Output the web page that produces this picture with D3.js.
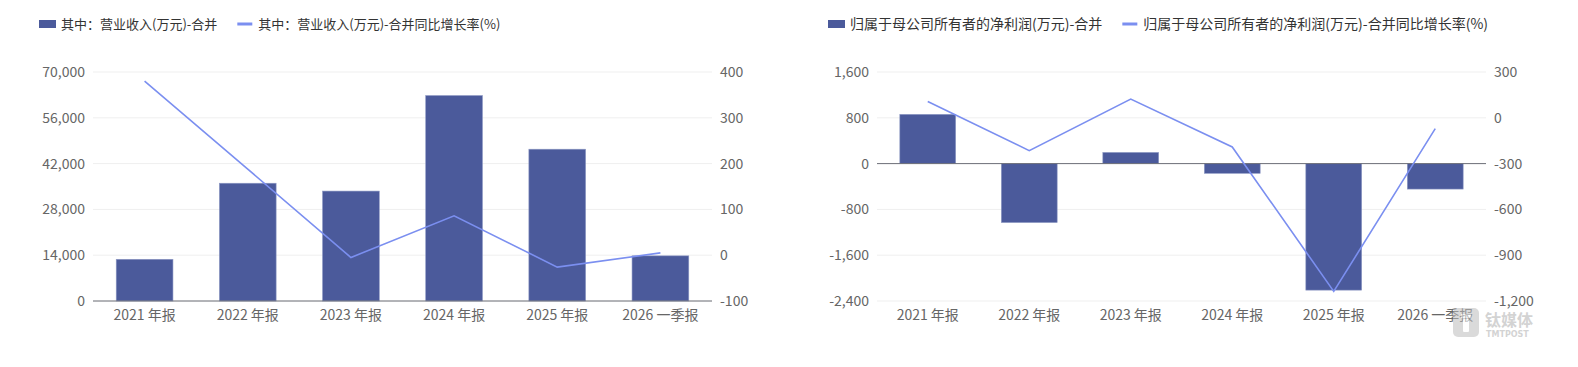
<!DOCTYPE html>
<html><head><meta charset="utf-8">
<script src="https://cdn.jsdelivr.net/npm/d3@7/dist/d3.min.js"></script>
<style>body{margin:0;background:#fff;}svg{display:block;font-family:"Noto Sans CJK SC","Noto Sans",sans-serif;}</style>
</head><body>
<svg id="c" width="1578" height="367"></svg>
<script>
const categories = ["2021 年报","2022 年报","2023 年报","2024 年报","2025 年报","2026 一季报"];
const revenue = [12750, 36000, 33600, 62800, 46400, 13800];
const revenueGrowth = [380, 188, -5, 86, -26, 5];
const netProfit = [860, -1030, 195, -170, -2210, -445];
const netProfitGrowth = [107, -215, 123, -191, -1137, -71];
const revTicks = [0, 14000, 28000, 42000, 56000, 70000];
const revGrowthTicks = [-100, 0, 100, 200, 300, 400];
const profitTicks = [-2400, -1600, -800, 0, 800, 1600];
const profitGrowthTicks = [-1200, -900, -600, -300, 0, 300];
const legendLeft = ["其中：营业收入(万元)-合并", "其中：营业收入(万元)-合并同比增长率(%)"];
const legendRight = ["归属于母公司所有者的净利润(万元)-合并", "归属于母公司所有者的净利润(万元)-合并同比增长率(%)"];

const BAR = "#4b5a9b", LINE = "#7b8ff0";
const svg = d3.select("#c");
const fmt0 = d3.format(",");
const fmt = v => fmt0(v).replace("\u2212", "-");

function chart(o) {
  const g = svg.append("g");
  const x = d3.scaleBand().domain(categories).range([o.x0, o.x1]);
  const yL = d3.scaleLinear().domain(d3.extent(o.lt)).range([o.y1, o.y0]);
  const yR = d3.scaleLinear().domain(d3.extent(o.rt)).range([o.y1, o.y0]);
  g.selectAll(".grid").data(o.lt).join("line")
    .attr("x1", o.x0).attr("x2", o.x1)
    .attr("y1", d => yL(d)).attr("y2", d => yL(d))
    .attr("stroke", "#efefef").attr("stroke-width", 1);
  const la = g.append("g").attr("transform", `translate(${o.x0},0)`)
    .call(d3.axisLeft(yL).tickValues(o.lt).tickFormat(fmt).tickSize(0).tickPadding(8));
  la.select(".domain").remove();
  la.selectAll("text").attr("fill", "#666").attr("font-size", 14).attr("font-family", "Noto Sans CJK SC");
  const ra = g.append("g").attr("transform", `translate(${o.x1},0)`)
    .call(d3.axisRight(yR).tickValues(o.rt).tickFormat(fmt).tickSize(0).tickPadding(8));
  ra.select(".domain").remove();
  ra.selectAll("text").attr("fill", "#666").attr("font-size", 14).attr("font-family", "Noto Sans CJK SC");
  const bw = x.step() * 0.55;
  g.selectAll(".bar").data(o.bars).join("rect")
    .attr("x", (d, i) => x(categories[i]) + x.step() / 2 - bw / 2)
    .attr("width", bw)
    .attr("y", d => Math.min(yL(d), yL(0)))
    .attr("height", d => Math.abs(yL(d) - yL(0)))
    .attr("fill", BAR).attr("stroke", "#8d98c4").attr("stroke-width", 0.6);
  g.append("line").attr("x1", o.x0).attr("x2", o.x1)
    .attr("y1", yL(0)).attr("y2", yL(0)).attr("stroke", "#6e7079").attr("stroke-width", 1);
  g.selectAll(".xl").data(categories).join("text")
    .attr("x", d => x(d) + x.step() / 2).attr("y", o.y1 + 19)
    .attr("text-anchor", "middle").attr("fill", "#666").attr("font-size", 14)
    .text(d => d);
  const line = d3.line().x((d, i) => x(categories[i]) + x.step() / 2).y(d => yR(d));
  g.append("path").datum(o.line).attr("d", line)
    .attr("fill", "none").attr("stroke", LINE).attr("stroke-width", 1.6);
  const lg = g.append("g");
  lg.append("rect").attr("x", o.lx).attr("y", 20).attr("width", 17).attr("height", 8).attr("fill", BAR);
  const t1 = lg.append("text").attr("x", o.lx + 22).attr("y", 29).attr("font-size", o.lfs).attr("fill", "#333").text(o.legend[0]);
  const w1 = t1.node().getComputedTextLength();
  const lx2 = o.lx + 22 + w1 + 20;
  lg.append("line").attr("x1", lx2).attr("x2", lx2 + 15).attr("y1", 24).attr("y2", 24).attr("stroke", LINE).attr("stroke-width", 3);
  lg.append("text").attr("x", lx2 + 21).attr("y", 29).attr("font-size", o.lfs).attr("fill", "#333").text(o.legend[1]);
}

chart({x0: 93, x1: 712, y0: 72, y1: 301, lt: revTicks, rt: revGrowthTicks, bars: revenue, line: revenueGrowth, lx: 39, lfs: 13, legend: legendLeft});
chart({x0: 877, x1: 1486, y0: 72, y1: 301, lt: profitTicks, rt: profitGrowthTicks, bars: netProfit, line: netProfitGrowth, lx: 828, lfs: 14, legend: legendRight});

const wm = svg.append("g").attr("opacity", 0.55);
wm.append("rect").attr("x", 1453).attr("y", 308).attr("width", 26).attr("height", 29).attr("rx", 5).attr("fill", "#bdbdbd");
wm.append("rect").attr("x", 1461).attr("y", 314).attr("width", 10).attr("height", 4).attr("fill", "#fff");
wm.append("rect").attr("x", 1463).attr("y", 319).attr("width", 6).attr("height", 13).attr("rx", 1).attr("fill", "#fff");
wm.append("text").attr("x", 1485).attr("y", 326).attr("font-size", 16).attr("font-weight", "bold").attr("fill", "#b0b0b0").text("钛媒体");
wm.append("text").attr("x", 1486).attr("y", 337).attr("font-size", 8).attr("font-weight", "bold").attr("fill", "#b0b0b0").attr("font-family", "DejaVu Sans").text("TMTPOST");
</script>
</body></html>
